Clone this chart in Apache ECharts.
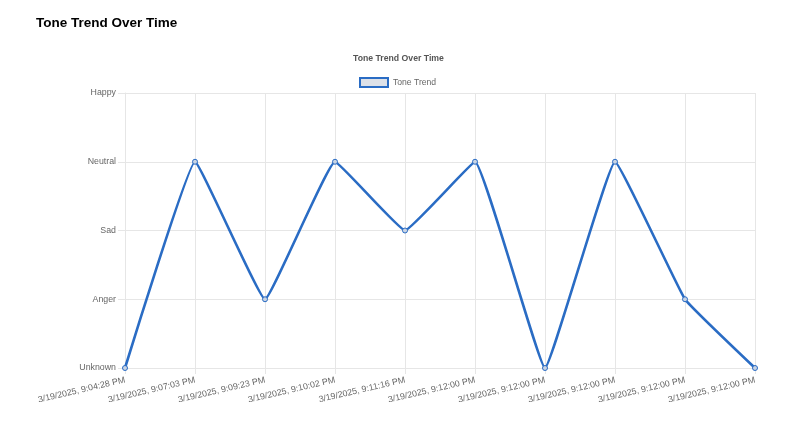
<!DOCTYPE html>
<html>
<head>
<meta charset="utf-8">
<script src="https://cdn.jsdelivr.net/npm/echarts@6/dist/echarts.min.js"></script>
<style>
html,body{margin:0;padding:0;background:#fff;}
#chart{width:806px;height:422px;}
</style>
</head>
<body>
<div id="chart"></div>
<script>
const timestamps = [
  '3/19/2025, 9:04:28 PM','3/19/2025, 9:07:03 PM','3/19/2025, 9:09:23 PM',
  '3/19/2025, 9:10:02 PM','3/19/2025, 9:11:16 PM','3/19/2025, 9:12:00 PM',
  '3/19/2025, 9:12:00 PM','3/19/2025, 9:12:00 PM','3/19/2025, 9:12:00 PM',
  '3/19/2025, 9:12:00 PM'
];
const toneLevels = ['Unknown','Anger','Sad','Neutral','Happy'];
const toneValues = ['Unknown','Neutral','Anger','Neutral','Sad','Neutral','Unknown','Neutral','Anger','Unknown'];

const lineColor = '#2a6cc4';
const gridColor = '#e6e6e6';
const font = '"Liberation Sans", Arial, Helvetica, sans-serif';

const chart = echarts.init(document.getElementById('chart'));
chart.setOption({
  animation: false,
  textStyle: { fontFamily: font },
  title: [
    { text: 'Tone Trend Over Time', left: 31, top: 11,
      textStyle: { fontSize: 13.5, fontWeight: 'bold', color: '#000', fontFamily: font } },
    { text: 'Tone Trend Over Time', left: 348, top: 49,
      textStyle: { fontSize: 8.7, fontWeight: 'bold', color: '#555', fontFamily: font } }
  ],
  legend: {
    top: 72, left: 354,
    itemWidth: 28, itemHeight: 9, itemGap: 5,
    data: [{ name: 'Tone Trend', icon: 'rect' }],
    itemStyle: { color: '#dde1e8', borderColor: lineColor, borderWidth: 2 },
    textStyle: { fontSize: 8.6, color: '#666', fontFamily: font }
  },
  grid: { left: 125, right: 51, top: 93, bottom: 54, containLabel: false },
  xAxis: {
    type: 'category',
    data: timestamps,
    boundaryGap: false,
    axisLine: { show: true, lineStyle: { color: gridColor } },
    axisTick: { show: true, alignWithLabel: true, length: 6, lineStyle: { color: gridColor } },
    splitLine: { show: true, lineStyle: { color: gridColor } },
    axisLabel: { interval: 0, rotate: 13, margin: 12, fontSize: 8.8, color: '#666', fontFamily: font }
  },
  yAxis: {
    type: 'category',
    data: toneLevels,
    boundaryGap: false,
    axisLine: { show: true, lineStyle: { color: gridColor } },
    axisTick: { show: true, length: 7, lineStyle: { color: gridColor } },
    splitLine: { show: true, lineStyle: { color: gridColor } },
    axisLabel: { fontSize: 8.8, color: '#666', margin: 9, fontFamily: font }
  },
  series: [{
    name: 'Tone Trend',
    type: 'line',
    data: toneValues,
    smooth: 0.08,
    symbol: 'circle',
    symbolSize: 5,
    lineStyle: { color: lineColor, width: 2.6 },
    itemStyle: { color: '#c9d4e4', borderColor: lineColor, borderWidth: 1 }
  }]
});
</script>
</body>
</html>
